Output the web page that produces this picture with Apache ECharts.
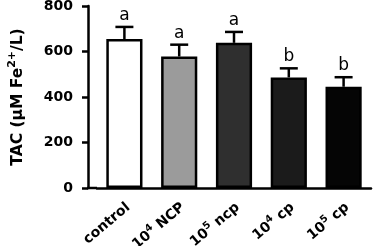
<!DOCTYPE html>
<html><head><meta charset="utf-8">
<script src="https://cdn.jsdelivr.net/npm/echarts@6/dist/echarts.min.js"></script>
<style>html,body{margin:0;padding:0;background:#fff}#c{width:380px;height:246px}</style>
</head><body><div id="c"></div>
<script>
const categories = ['control', '10^4 NCP', '10^5 ncp', '10^4 cp', '10^5 cp'];
const means = [655, 578, 638, 486, 445];
const errUpper = [708, 630, 686, 526, 487];
const letters = ['a', 'a', 'a', 'b', 'b'];
const barColors = ['#ffffff', '#9b9b9b', '#2f2f2f', '#1b1b1b', '#050505'];
const yMin = 0, yMax = 800, yStep = 200;

const FONT = '"DejaVu Sans", Arial, sans-serif';
const chart = echarts.init(document.getElementById('c'), null, {renderer: 'canvas'});

function fmtCat(v) {
  const m = v.match(/^10\^(\d)\s(.*)$/);
  if (m) return '{n|10}{s|' + m[1] + '}{n| ' + m[2] + '}';
  return '{n|' + v + '}';
}

const option = {
  animation: false,
  backgroundColor: '#fff',
  grid: {left: 97, right: 9, top: 6, bottom: 58, containLabel: false, outerBoundsMode: 'none'},
  xAxis: {
    type: 'category',
    data: categories,
    axisLine: {lineStyle: {color: '#000', width: 2.5}},
    axisTick: {alignWithLabel: true, length: 6, lineStyle: {color: '#000', width: 2.5}},
    axisLabel: {
      rotate: 40, margin: 13, interval: 0,
      formatter: fmtCat,
      padding: [12, 0, 0, 0],
      rich: {
        n: {fontFamily: FONT, fontWeight: 'bold', fontSize: 14, color: '#000'},
        s: {fontFamily: FONT, fontWeight: 'bold', fontSize: 10, color: '#000', verticalAlign: 'bottom', padding: [0, 0, 9, 0]}
      }
    }
  },
  yAxis: {
    type: 'value', min: yMin, max: yMax, interval: yStep,
    offset: 9,
    name: '{n|TAC (µM Fe}{s|2+}{n|/L)}',
    nameLocation: 'middle', nameGap: 60, nameRotate: 90,
    nameTextStyle: {
      rich: {
        n: {fontFamily: FONT, fontWeight: 'bold', fontSize: 15.5, color: '#000'},
        s: {fontFamily: FONT, fontWeight: 'bold', fontSize: 11, color: '#000', verticalAlign: 'bottom', padding: [0, 0, 10, 0]}
      }
    },
    axisLine: {show: true, lineStyle: {color: '#000', width: 2.5}},
    axisTick: {show: true, length: 6, lineStyle: {color: '#000', width: 2.5}},
    axisLabel: {fontFamily: FONT, fontWeight: 'bold', fontSize: 14, color: '#000', margin: 15},
    splitLine: {show: false}
  },
  series: [
    {
      type: 'bar',
      data: means.map((v, i) => ({value: v, itemStyle: {color: barColors[i]}})),
      barCategoryGap: '34%',
      itemStyle: {borderColor: '#000', borderWidth: 2.5}
    },
    {
      type: 'custom',
      data: means.map((v, i) => [i, v, errUpper[i]]),
      renderItem: function (params, api) {
        const i = api.value(0);
        const p0 = api.coord([i, api.value(1)]);
        const p1 = api.coord([i, api.value(2)]);
        const cap = 9;
        const st = {stroke: '#000', lineWidth: 2.5};
        return {
          type: 'group',
          children: [
            {type: 'line', shape: {x1: p0[0], y1: p0[1], x2: p1[0], y2: p1[1]}, style: st},
            {type: 'line', shape: {x1: p1[0] - cap, y1: p1[1], x2: p1[0] + cap, y2: p1[1]}, style: st},
            {type: 'text', style: {text: letters[params.dataIndex], x: p1[0], y: p1[1] - 3,
              textAlign: 'center', textVerticalAlign: 'bottom',
              font: '17px ' + FONT, fill: '#000'}}
          ]
        };
      },
      z: 5
    }
  ]
};
chart.setOption(option);

// extend x axis line left to the offset y axis
const rect = chart.getModel().getComponent('grid', 0).coordinateSystem.getRect();
chart.setOption({
  graphic: [{type: 'line', shape: {x1: rect.x - 9 - 1, y1: rect.y + rect.height, x2: rect.x, y2: rect.y + rect.height},
    style: {stroke: '#000', lineWidth: 2.5}, z: 10}]
});
</script></body></html>
